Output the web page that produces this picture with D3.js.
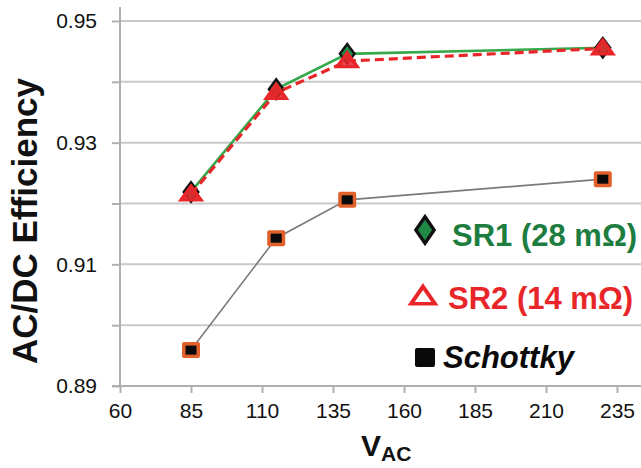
<!DOCTYPE html>
<html>
<head>
<meta charset="utf-8">
<script src="https://cdn.jsdelivr.net/npm/d3@7"></script>
<style>
  html, body { margin: 0; padding: 0; background: #fff; }
  svg { display: block; font-family: "Liberation Sans", Arial, Helvetica, sans-serif; }
</style>
</head>
<body>
<svg id="chart" width="641" height="468"></svg>
<script>
// Input AC voltage (V) at each measured point
const vac = [85, 115, 140, 230];
// AC/DC efficiency per rectifier type
const sr1 = [0.9219, 0.9388, 0.9446, 0.9456];
const sr2 = [0.9215, 0.9382, 0.9434, 0.9455];
const schottky = [0.8959, 0.9143, 0.9206, 0.9240];

const xTicks = [60, 85, 110, 135, 160, 185, 210, 235];
const yTicks = [0.89, 0.90, 0.91, 0.92, 0.93, 0.94, 0.95];
const yLabels = [0.89, 0.91, 0.93, 0.95];

const seriesNames = ["SR1 (28 mΩ)", "SR2 (14 mΩ)", "Schottky"];

const plotL = 120, plotR = 641, plotT = 21, plotB = 386;

const svg = d3.select("#chart");

const x = d3.scaleLinear().domain([60, 235]).range([plotL, 617]);
const y = d3.scaleLinear().domain([0.89, 0.95]).range([plotB, plotT]);

// Horizontal gridlines
svg.append("g").selectAll("line").data(yTicks.slice(1)).join("line")
  .attr("x1", plotL).attr("x2", plotR)
  .attr("y1", d => y(d)).attr("y2", d => y(d))
  .attr("stroke", "#c9c9c9").attr("stroke-width", 2);

// Y axis
const yAxis = svg.append("g").attr("transform", `translate(${plotL},0)`)
  .call(d3.axisLeft(y).tickValues(yTicks).tickSize(8)
    .tickFormat(d => yLabels.some(v => Math.abs(v - d) < 1e-9) ? d3.format(".2f")(d) : ""));
yAxis.select(".domain").attr("stroke", "#b0b0b0").attr("stroke-width", 2)
  .attr("d", `M0,7V${plotB}`);
yAxis.selectAll(".tick line").attr("stroke", "#b0b0b0").attr("stroke-width", 2);
yAxis.selectAll(".tick text").attr("font-size", 21).attr("fill", "#111")
  .attr("x", -23).attr("font-family", "Liberation Sans, Arial, sans-serif");

// X axis
const xAxis = svg.append("g").attr("transform", `translate(0,${plotB})`)
  .call(d3.axisBottom(x).tickValues(xTicks).tickSize(7));
xAxis.select(".domain").attr("stroke", "#b0b0b0").attr("stroke-width", 2)
  .attr("d", `M${plotL - 8},0H${plotR}`);
xAxis.selectAll(".tick line").attr("stroke", "#b0b0b0").attr("stroke-width", 2);
xAxis.selectAll(".tick text").attr("font-size", 21).attr("fill", "#111")
  .attr("y", 17).attr("font-family", "Liberation Sans, Arial, sans-serif");

// Axis titles
svg.append("text")
  .attr("transform", `translate(37,221) rotate(-90)`)
  .attr("text-anchor", "middle")
  .attr("font-size", 35).attr("font-weight", "bold").attr("fill", "#111")
  .text("AC/DC Efficiency");

const xt = svg.append("text")
  .attr("x", 361).attr("y", 456)
  .attr("font-size", 30).attr("font-weight", "bold").attr("fill", "#111");
xt.append("tspan").text("V");
xt.append("tspan").attr("font-size", 21).attr("dy", 5).text("AC");

const line = d3.line().x((d, i) => x(vac[i])).y(d => y(d));

// Schottky series
svg.append("path").datum(schottky).attr("d", line)
  .attr("fill", "none").attr("stroke", "#7a7a7a").attr("stroke-width", 1.6);
const sq = svg.append("g").selectAll("g").data(schottky).join("g")
  .attr("transform", (d, i) => `translate(${x(vac[i])},${y(d)})`);
sq.append("rect").attr("x", -9).attr("y", -8).attr("width", 18).attr("height", 16)
  .attr("rx", 2).attr("fill", "#e2602a");
sq.append("rect").attr("x", -5.5).attr("y", -4.5).attr("width", 11).attr("height", 9)
  .attr("fill", "#0a0a0a");

// SR1 series
svg.append("path").datum(sr1).attr("d", line)
  .attr("fill", "none").attr("stroke", "#35a84a").attr("stroke-width", 2.6);
const diamond = d3.symbol().type(d3.symbolDiamond).size(110);
svg.append("g").selectAll("path").data(sr1).join("path")
  .attr("d", diamond)
  .attr("transform", (d, i) => `translate(${x(vac[i])},${y(d)}) scale(1.3,1)`)
  .attr("fill", "#1e8a46").attr("stroke", "#111").attr("stroke-width", 2);

// SR2 series
svg.append("path").datum(sr2).attr("d", line)
  .attr("fill", "none").attr("stroke", "#e8262a").attr("stroke-width", 3.2)
  .attr("stroke-dasharray", "9,5");
const tri = d3.symbol().type(d3.symbolTriangle).size(110);
svg.append("g").selectAll("path").data(sr2).join("path")
  .attr("d", tri)
  .attr("transform", (d, i) => `translate(${x(vac[i])},${y(d) + 1}) scale(1.25,1)`)
  .attr("fill", "#e8262a").attr("fill-opacity", 0.85)
  .attr("stroke", "#e8262a").attr("stroke-width", 3);

// Legend
const lg = svg.append("g");
lg.append("path").attr("d", d3.symbol().type(d3.symbolDiamond).size(200)())
  .attr("transform", "translate(425,230) scale(1.2,1)")
  .attr("fill", "#1e8a46").attr("stroke", "#111").attr("stroke-width", 3);
lg.append("text").attr("x", 452).attr("y", 246)
  .attr("font-size", 31).attr("font-weight", "bold").attr("fill", "#1d7d3f")
  .text(seriesNames[0]);

lg.append("path").attr("d", d3.symbol().type(d3.symbolTriangle).size(170)())
  .attr("transform", "translate(423,298) scale(1.2,1)")
  .attr("fill", "#fff").attr("stroke", "#e8262a").attr("stroke-width", 3.5);
lg.append("text").attr("x", 448).attr("y", 309)
  .attr("font-size", 31).attr("font-weight", "bold").attr("fill", "#e8262a")
  .text(seriesNames[1]);

lg.append("rect").attr("x", 415).attr("y", 348).attr("width", 20).attr("height", 19)
  .attr("rx", 2).attr("fill", "#0a0a0a");
lg.append("text").attr("x", 443).attr("y", 368)
  .attr("font-size", 31).attr("font-weight", "bold").attr("font-style", "italic")
  .attr("fill", "#0a0a0a")
  .text(seriesNames[2]);
</script>
</body>
</html>
